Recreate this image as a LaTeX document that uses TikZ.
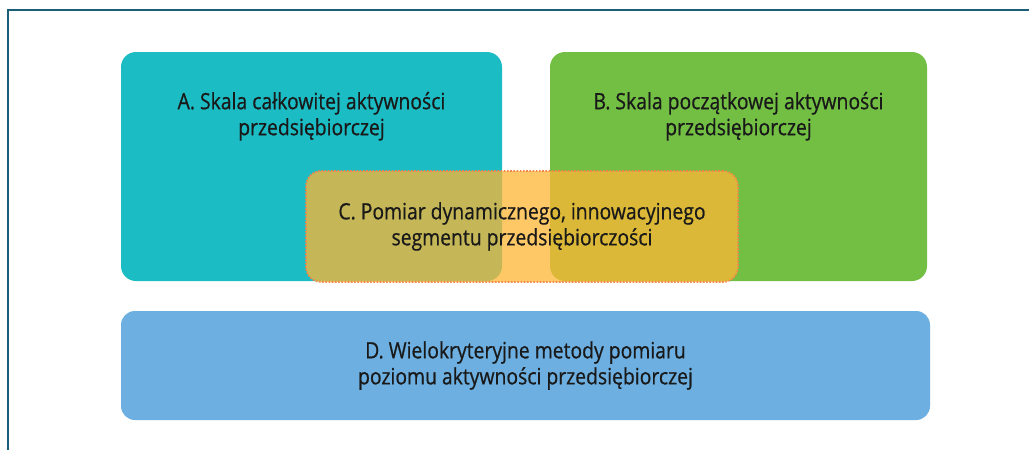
\documentclass[tikz,border=0pt]{standalone}
\usepackage{fontspec}
\setmainfont{Open Sans}[FakeStretch=0.86, FakeBold=0.6]
\usetikzlibrary{positioning}
\definecolor{frameblue}{HTML}{1B5E78}
\definecolor{tealA}{HTML}{1BBCC4}
\definecolor{greenB}{HTML}{72BF44}
\definecolor{orangeC}{RGB}{255,182,51}
\definecolor{dotC}{HTML}{F3864A}
\definecolor{blueD}{HTML}{6CAFE0}
\tikzset{
  areabox/.style={rounded corners=15pt, inner sep=0pt, draw=none},
  areatext/.style={align=center, inner sep=0pt, text=black!90, font=\fontsize{22.5}{26}\selectfont},
}
\begin{document}
\begin{tikzpicture}[x=1pt, y=-1pt]
    \clip (0,0) rectangle (1029,450);
    \fill[white] (0,0) rectangle (1029,450);
    \draw[frameblue, line width=2.5pt] (8,470) |- (1050,10); % frame, cut by the page

    \node[areabox, fill=tealA, minimum width=381pt, minimum height=229pt] (boxA) at (311.5,166.5) {};
    \node[areabox, fill=greenB, minimum width=377pt, minimum height=229pt] (boxB) at (738.5,166.5) {};
    \node[areatext, below=40pt of boxA.north] (textA) {A. Skala całkowitej aktywności\\przedsiębiorczej};
    \node[areatext, below=40pt of boxB.north] (textB) {B. Skala początkowej aktywności\\przedsiębiorczej};

    \node[areabox, fill=orangeC, fill opacity=0.75, draw=dotC, line width=1.6pt,
          dash pattern=on 1.6pt off 1.6pt, minimum width=432pt, minimum height=111pt] (boxC) at (522,226.5) {};
    \node[areatext] (textC) at (boxC) {C. Pomiar dynamicznego, innowacyjnego\\segmentu przedsiębiorczości};

    \node[areabox, fill=blueD, rounded corners=14pt, minimum width=809pt, minimum height=109pt] (boxD) at (525.5,365.5) {};
    \node[areatext] (textD) at (boxD) {D. Wielokryteryjne metody pomiaru\\poziomu aktywności przedsiębiorczej};
\end{tikzpicture}
\end{document}
